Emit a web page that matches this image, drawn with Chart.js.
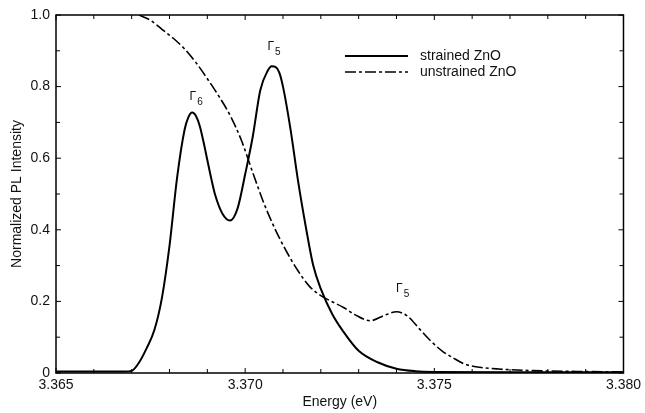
<!DOCTYPE html>
<html>
<head>
<meta charset="utf-8">
<script src="https://cdn.jsdelivr.net/npm/chart.js@4.4.0/dist/chart.umd.min.js"></script>
<style>
  html, body { margin: 0; padding: 0; background: #fff; }
</style>
</head>
<body>
<canvas id="grafico" width="645" height="413"></canvas>
<script>
// valores (energia em eV, intensidade normalizada)
const energiaStrained = [3.3650, 3.3660, 3.3668, 3.3670, 3.3672, 3.3674, 3.3676, 3.3678, 3.3680, 3.3682,
    3.3684, 3.3685, 3.3686, 3.3687, 3.3688, 3.3689, 3.3690, 3.3691, 3.3692, 3.3694, 3.3696, 3.3698, 3.3700, 3.3702,
    3.3704, 3.3706, 3.3707, 3.3708, 3.3709, 3.3710, 3.3712, 3.3714, 3.3716, 3.3718, 3.3720, 3.3723,
    3.3726, 3.3730, 3.3735, 3.3740, 3.3745, 3.3750, 3.3770, 3.3800];
const intensStrained = [0.004, 0.004, 0.004, 0.006, 0.03, 0.07, 0.12, 0.21, 0.355, 0.545,
    0.68, 0.715, 0.728, 0.718, 0.69, 0.645, 0.595, 0.545, 0.50, 0.445, 0.426, 0.46, 0.555, 0.66,
    0.79, 0.845, 0.857, 0.855, 0.84, 0.80, 0.68, 0.535, 0.41, 0.30, 0.235, 0.165,
    0.115, 0.062, 0.03, 0.012, 0.005, 0.003, 0.002, 0.002];

const energiaUnstrained = [3.3672, 3.3675, 3.3678, 3.3681, 3.3684, 3.3687, 3.3690, 3.3693, 3.3696, 3.3699,
    3.3702, 3.3705, 3.3708, 3.3711, 3.3714, 3.3717, 3.3720, 3.3723, 3.3726, 3.3729,
    3.3733, 3.3737, 3.3740, 3.3743, 3.3746, 3.3749, 3.3752, 3.3755, 3.3758, 3.3762,
    3.3767, 3.3775, 3.3790, 3.3800];
const intensUnstrained = [1.0, 0.985, 0.96, 0.935, 0.905, 0.867, 0.822, 0.774, 0.72, 0.65,
    0.56, 0.473, 0.40, 0.338, 0.285, 0.242, 0.216, 0.199, 0.183, 0.163,
    0.146, 0.162, 0.171, 0.158, 0.124, 0.09, 0.062, 0.042, 0.025, 0.016,
    0.011, 0.007, 0.004, 0.003];

const nomesSeries = ['strained ZnO', 'unstrained ZnO'];
const ticksX = [3.365, 3.370, 3.375, 3.380];
const ticksY = [0, 0.2, 0.4, 0.6, 0.8, 1.0];

// rótulos dos picos: letra, subscrito, posição (energia, intensidade)
const rotulosPicos = [
    { texto: 'Γ', sub: '6', x: 3.36853, y: 0.763 },
    { texto: 'Γ', sub: '5', x: 3.37059, y: 0.902 },
    { texto: 'Γ', sub: '5', x: 3.37399, y: 0.226 }
];

const tracejado = [11, 3, 3, 3];

Chart.defaults.font.family = "'Liberation Sans', Arial, sans-serif";
Chart.defaults.font.size = 14;
Chart.defaults.color = '#111';

// moldura, ticks internos, legenda e rótulos
const molduraPlugin = {
    id: 'moldura',
    afterDatasetsDraw(chart) {
        const ctx = chart.ctx;
        const area = chart.chartArea;
        const sx = chart.scales.x;
        const sy = chart.scales.y;
        ctx.save();
        ctx.strokeStyle = '#000';
        ctx.lineWidth = 1.5;
        ctx.strokeRect(area.left, area.top, area.right - area.left, area.bottom - area.top);

        ctx.lineWidth = 1;
        ctx.beginPath();
        for (let i = 0; i <= 15; i++) {
            const px = sx.getPixelForValue(ticksX[0] + i * 0.001);
            const len = (i % 5 == 0) ? 5 : 4;
            ctx.moveTo(px, area.bottom); ctx.lineTo(px, area.bottom - len);
            ctx.moveTo(px, area.top); ctx.lineTo(px, area.top + len);
        }
        for (let i = 0; i <= 10; i++) {
            const py = sy.getPixelForValue(i * 0.1);
            const len = (i % 2 == 0) ? 5 : 4;
            ctx.moveTo(area.left, py); ctx.lineTo(area.left + len, py);
            ctx.moveTo(area.right, py); ctx.lineTo(area.right - len, py);
        }
        ctx.stroke();

        // legenda
        const lx = area.left + 289;
        const ly = area.top + 41;
        chart.data.datasets.forEach(function (ds, i) {
            const y = ly + i * 16;
            ctx.beginPath();
            ctx.lineWidth = ds.borderWidth;
            ctx.setLineDash(ds.borderDash || []);
            ctx.moveTo(lx, y);
            ctx.lineTo(lx + 63, y);
            ctx.stroke();
            ctx.setLineDash([]);
            ctx.fillStyle = '#111';
            ctx.font = "14px 'Liberation Sans', Arial, sans-serif";
            ctx.textBaseline = 'middle';
            ctx.textAlign = 'left';
            ctx.fillText(ds.label, lx + 75, y);
        });

        // rótulos Γ
        rotulosPicos.forEach(function (r) {
            const px = sx.getPixelForValue(r.x);
            const py = sy.getPixelForValue(r.y);
            ctx.fillStyle = '#111';
            ctx.textBaseline = 'alphabetic';
            ctx.font = "12px 'Liberation Sans', Arial, sans-serif";
            ctx.fillText(r.texto, px, py);
            const w = ctx.measureText(r.texto).width;
            ctx.font = "10px 'Liberation Sans', Arial, sans-serif";
            ctx.fillText(r.sub, px + w + 1, py + 5);
        });
        ctx.restore();
    }
};

const dados = {
    datasets: [{
        label: nomesSeries[0],
        data: energiaStrained.map(function (e, i) { return { x: e, y: intensStrained[i] }; }),
        borderColor: '#000',
        borderWidth: 2,
        pointRadius: 0,
        cubicInterpolationMode: 'monotone',
        fill: false
    }, {
        label: nomesSeries[1],
        data: energiaUnstrained.map(function (e, i) { return { x: e, y: intensUnstrained[i] }; }),
        borderColor: '#000',
        borderWidth: 1.6,
        borderDash: tracejado,
        pointRadius: 0,
        cubicInterpolationMode: 'monotone',
        fill: false
    }]
};

const config = {
    type: 'line',
    data: dados,
    options: {
        responsive: false,
        animation: false,
        devicePixelRatio: 1,
        layout: { padding: { top: 15, right: 20, left: 0, bottom: 0 } },
        plugins: {
            legend: { display: false },
            tooltip: { enabled: false }
        },
        scales: {
            x: {
                type: 'linear',
                min: 3.365,
                max: 3.380,
                afterBuildTicks: function (s) { s.ticks = ticksX.map(function (v) { return { value: v }; }); },
                afterFit: function (s) { s.height = 40; },
                grid: { display: false, drawTicks: false, tickLength: 0 },
                border: { display: false },
                ticks: {
                    autoSkip: false,
                    maxRotation: 0,
                    padding: 4,
                    callback: function (v) { return v.toFixed(3); }
                },
                title: { display: true, text: 'Energy (eV)', padding: { top: 0, bottom: 2 } }
            },
            y: {
                min: 0,
                max: 1,
                afterBuildTicks: function (s) { s.ticks = ticksY.map(function (v) { return { value: v }; }); },
                afterFit: function (s) { s.width = 56; },
                grid: { display: false, drawTicks: false, tickLength: 0 },
                border: { display: false },
                ticks: {
                    padding: 6,
                    callback: function (v) { return v === 0 ? '0' : v.toFixed(1); }
                },
                title: { display: true, text: 'Normalized PL Intensity', padding: { top: 9, bottom: 0 } }
            }
        }
    },
    plugins: [molduraPlugin]
};

let grafico = new Chart(document.getElementById('grafico'), config);
</script>
</body>
</html>
